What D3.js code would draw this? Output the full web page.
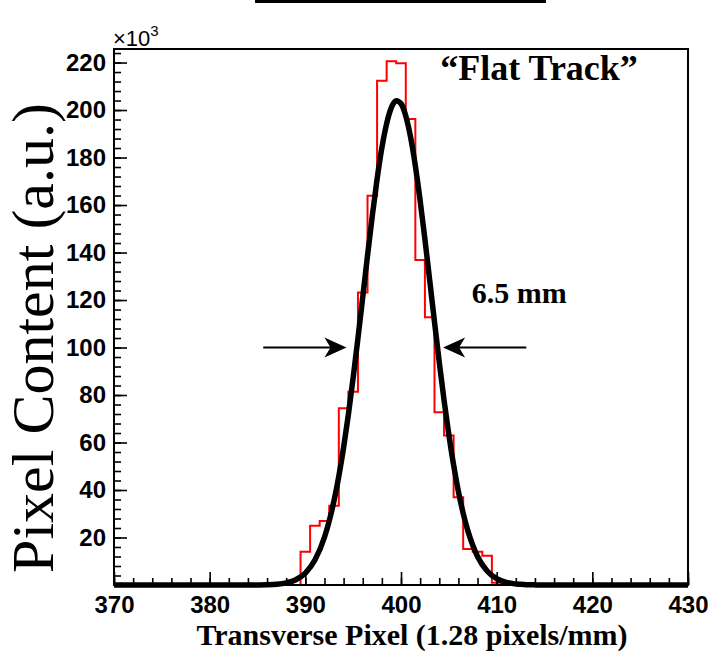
<!DOCTYPE html>
<html><head><meta charset="utf-8">
<script src="https://cdn.jsdelivr.net/npm/d3@7"></script>
<style>body{margin:0;background:#fff}svg{display:block}</style>
</head><body>
<svg id="chart" width="708" height="654"></svg>
<script>
// ---- data (values in units of 10^3) ----
const binCenters = [390,391,392,393,394,395,396,397,398,399,400,401,402,403,404,405,406,407,408,409,410];
const binValues  = [14.0,25.0,26.9,33.4,74.4,81.4,123.2,163.9,212.3,220.5,219.7,196.2,136.8,112.7,72.7,62.9,36.9,15.2,14.0,12.3,1.0];
const fitX = [370,380,384,385,386,387,388,389,390,391,392,392.5,393,393.5,394,394.5,395,395.5,396,396.5,397,397.5,398,398.5,399,399.5,400,400.5,401,401.5,402,402.5,403,403.5,404,404.5,405,405.5,406,406.5,407,407.5,408,409,410,411,412,413,414,415,420,430];
const fitY = [0,0,0.01,0.04,0.12,0.35,0.92,2.2,5.0,10.5,20.1,27.0,35.5,45.8,57.9,71.8,87.3,103.9,121.2,138.7,155.5,170.9,184.1,194.3,201.1,203.9,202.7,197.5,188.6,176.5,161.9,145.6,128.3,110.8,93.8,77.8,63.3,50.5,39.4,30.2,22.7,16.7,12.0,5.9,2.7,1.1,0.43,0.15,0.05,0.02,0,0];
const xTicks = [370,380,390,400,410,420,430];
const yTicks = [20,40,60,80,100,120,140,160,180,200,220];
const xMinorTicks = d3.range(370,431,2);
const yMinorTicks = d3.range(4,225,4);
const xDomain = [370,430];
const yDomain = [0,225.7];
const binWidth = 1;

// ---- layout ----
const L = 114, R = 688, T = 49, B = 585;
const svg = d3.select('#chart');
const x = d3.scaleLinear().domain(xDomain).range([L,R]);
const y = d3.scaleLinear().domain(yDomain).range([B,T]);

// decorative cut-off bar at the top
svg.append('line').attr('x1',255).attr('x2',546).attr('y1',1.5).attr('y2',1.5)
  .attr('stroke','#000').attr('stroke-width',3);

// histogram (red step outline)
const pts = [[binCenters[0]-binWidth/2, 0]];
binCenters.forEach((c,i)=>pts.push([c-binWidth/2, binValues[i]]));
const last = binCenters[binCenters.length-1]+binWidth/2;
pts.push([last, binValues[binValues.length-1]]);
pts.push([last, 0]);
svg.append('path')
  .attr('d', d3.line().x(d=>x(d[0])).y(d=>y(d[1])).curve(d3.curveStepAfter)(pts))
  .attr('fill','none').attr('stroke','#f00').attr('stroke-width',2);

// fit curve
svg.append('path')
  .attr('d', d3.line().x((d,i)=>x(fitX[i])).y((d,i)=>y(fitY[i])).curve(d3.curveMonotoneX)(fitX))
  .attr('fill','none').attr('stroke','#000').attr('stroke-width',5.5).attr('stroke-linejoin','round');

// frame
svg.append('rect').attr('x',L).attr('y',T).attr('width',R-L).attr('height',B-T)
  .attr('fill','none').attr('stroke','#000').attr('stroke-width',2);

const tickFont = g => g.selectAll('text').attr('font-family','"Liberation Sans", Arial, sans-serif')
  .attr('font-weight','bold').attr('font-size',24).attr('fill','#000');

// axes
const gx = svg.append('g').attr('transform',`translate(0,${B})`);
gx.call(d3.axisBottom(x).tickValues(xMinorTicks).tickSize(-7).tickFormat(''));
gx.select('.domain').remove();
const gx2 = svg.append('g').attr('transform',`translate(0,${B})`);
gx2.call(d3.axisBottom(x).tickValues(xTicks).tickSize(-13).tickPadding(11).tickFormat(d3.format('d')));
gx2.select('.domain').remove();
tickFont(gx2);

const gy = svg.append('g').attr('transform',`translate(${L},0)`);
gy.call(d3.axisLeft(y).tickValues(yMinorTicks).tickSize(-7).tickFormat(''));
gy.select('.domain').remove();
const gy2 = svg.append('g').attr('transform',`translate(${L},0)`);
gy2.call(d3.axisLeft(y).tickValues(yTicks).tickSize(-13).tickPadding(8).tickFormat(d3.format('d')));
gy2.select('.domain').remove();
tickFont(gy2);
svg.selectAll('.tick line').attr('stroke','#000').attr('stroke-width',1.6);

// exponent label
const ex = svg.append('text').attr('x',L-1).attr('y',46)
  .attr('font-family','"Liberation Sans", Arial, sans-serif').attr('font-size',22).attr('fill','#000');
ex.append('tspan').text('×10');
ex.append('tspan').attr('dy',-10).attr('font-size',15).text('3');

// axis titles
svg.append('text').attr('x',412).attr('y',645).attr('text-anchor','middle')
  .attr('font-family','"Liberation Serif", "Times New Roman", serif').attr('font-weight','bold')
  .attr('font-size',30).attr('fill','#000').text('Transverse Pixel (1.28 pixels/mm)');
svg.append('text').attr('transform','translate(53,338) rotate(-90)').attr('text-anchor','middle')
  .attr('font-family','"Liberation Serif", "Times New Roman", serif')
  .attr('font-size',60).attr('fill','#000').text('Pixel Content (a.u.)');

// annotations
svg.append('text').attr('x',x(404.1)).attr('y',y(212.5))
  .attr('font-family','"Liberation Serif", "Times New Roman", serif').attr('font-weight','bold')
  .attr('font-size',36).attr('fill','#000').text('\u201CFlat Track\u201D');
svg.append('text').attr('x',x(407.4)).attr('y',y(118.8))
  .attr('font-family','"Liberation Serif", "Times New Roman", serif').attr('font-weight','bold')
  .attr('font-size',30).attr('fill','#000').text('6.5 mm');

// FWHM arrows at 100 (x10^3)
const arrows = [[385.6,394.3],[413.1,404.4]];
arrows.forEach(([from,to])=>{
  const x0=x(from), x1=x(to), yy=y(100), dir=Math.sign(x1-x0);
  svg.append('line').attr('x1',x0).attr('x2',x1-dir*8).attr('y1',yy).attr('y2',yy)
    .attr('stroke','#000').attr('stroke-width',2);
  svg.append('path').attr('d',`M${x1},${yy} L${x1-dir*22},${yy-10} L${x1-dir*16},${yy} L${x1-dir*22},${yy+10} Z`)
    .attr('fill','#000');
});
</script>
</body></html>
